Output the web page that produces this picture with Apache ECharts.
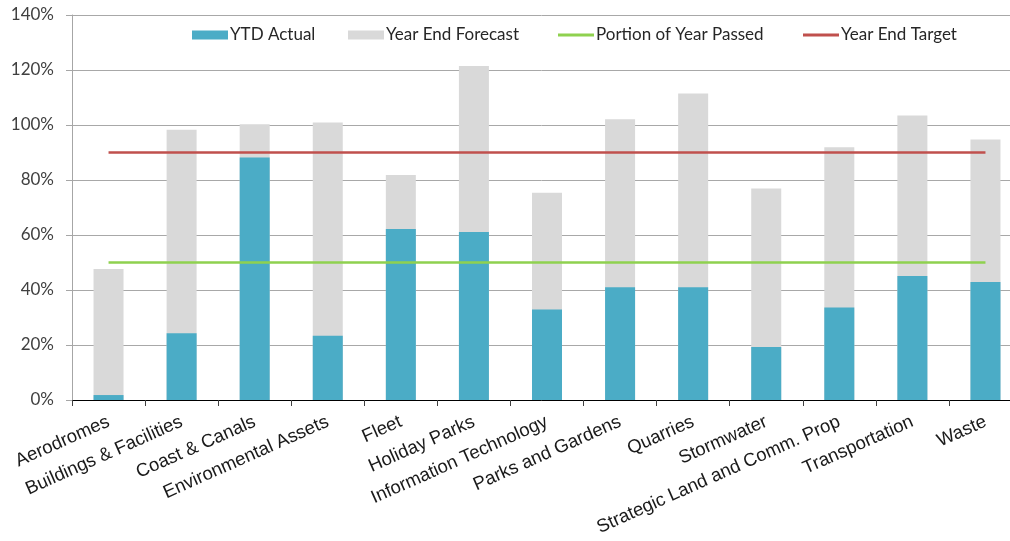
<!DOCTYPE html>
<html>
<head>
<meta charset="utf-8">
<title>Capital Programme Progress by Activity</title>
<script src="https://cdn.jsdelivr.net/npm/echarts@6/dist/echarts.min.js"></script>
<style>
  html, body { margin: 0; padding: 0; background: #ffffff; overflow: hidden; }
  #chart { width: 1010px; height: 541px; }
</style>
</head>
<body>
<div id="chart"></div>
<script>
// Activity groups along the horizontal axis
const categories = [
  'Aerodromes', 'Buildings & Facilities', 'Coast & Canals', 'Environmental Assets',
  'Fleet', 'Holiday Parks', 'Information Technology', 'Parks and Gardens',
  'Quarries', 'Stormwater', 'Strategic Land and Comm. Prop', 'Transportation', 'Waste'
];

// Percent of annual budget spent to date
const ytdActual = [1.8, 24.3, 88.2, 23.4, 62.2, 61.1, 32.9, 41.0, 41.0, 19.3, 33.6, 45.1, 42.9];

// Percent of annual budget expected to be spent by year end
const yearEndForecast = [47.6, 98.3, 100.3, 100.9, 81.8, 121.5, 75.4, 102.1, 111.5, 76.9, 91.9, 103.5, 94.7];

// Reference lines
const portionOfYearPassed = [50, 50, 50, 50, 50, 50, 50, 50, 50, 50, 50, 50, 50];
const yearEndTarget = [90, 90, 90, 90, 90, 90, 90, 90, 90, 90, 90, 90, 90];

// Value axis ticks (percent)
const yTicks = { min: 0, max: 140, interval: 20 };

const TEAL = '#4BACC6';
const GREY = '#D9D9D9';
const GREEN = '#8FD14F';
const RED = '#C0504D';

const legendFont = { fontFamily: 'Lato', fontSize: 17, color: '#262626' };
// thin bar used as the swatch for the line series
const LINE_ICON = 'path://M0,0 L36,0 L36,3 L0,3 Z';

// One legend block per entry so each sits at its own spot along the top
function legendAt(name, left, isLine) {
  return {
    data: [{ name: name, icon: isLine ? LINE_ICON : 'rect' }],
    left: left,
    top: 26.5,
    itemWidth: 36,
    itemHeight: 9,
    symbolKeepAspect: true,
    padding: 0,
    selectedMode: false,
    textStyle: Object.assign({ padding: [0, 0, 0, -3] }, legendFont)
  };
}

const chart = echarts.init(document.getElementById('chart'), null, { renderer: 'canvas' });

chart.setOption({
  animation: false,
  backgroundColor: '#ffffff',
  // the plot runs a little past the right edge of the canvas
  grid: { left: 72, width: 950, top: 15, height: 385, containLabel: false, outerBoundsMode: 'none' },
  legend: [
    legendAt('YTD Actual', 192, false),
    legendAt('Year End Forecast', 348, false),
    legendAt('Portion of Year Passed', 558, true),
    legendAt('Year End Target', 803, true)
  ],
  xAxis: {
    type: 'category',
    data: categories,
    boundaryGap: true,
    axisLine: { show: true, lineStyle: { color: '#000000', width: 1 } },
    axisTick: { show: true, length: 6, lineStyle: { color: '#404040' } },
    axisLabel: {
      interval: 0,
      rotate: 24,
      margin: 21,
      fontFamily: 'Liberation Sans',
      fontSize: 18.5,
      color: '#1a1a1a'
    },
    splitLine: { show: false }
  },
  yAxis: {
    type: 'value',
    min: yTicks.min,
    max: yTicks.max,
    interval: yTicks.interval,
    axisLine: { show: true, lineStyle: { color: '#a6a6a6', width: 1 } },
    axisTick: { show: true, length: 6, lineStyle: { color: '#a6a6a6' } },
    axisLabel: {
      formatter: '{value}%',
      margin: 18,
      fontFamily: 'Lato',
      fontSize: 17,
      color: '#404040'
    },
    splitLine: { show: true, lineStyle: { color: '#a8a8a8', width: 1 } }
  },
  series: [
    {
      name: 'Year End Forecast',
      type: 'bar',
      data: yearEndForecast,
      barWidth: 30,
      barGap: '-100%',
      itemStyle: { color: GREY },
      z: 2
    },
    {
      name: 'YTD Actual',
      type: 'bar',
      data: ytdActual,
      barWidth: 30,
      barGap: '-100%',
      itemStyle: { color: TEAL },
      z: 3
    },
    {
      name: 'Portion of Year Passed',
      type: 'line',
      data: portionOfYearPassed,
      symbol: 'none',
      lineStyle: { color: GREEN, width: 2.5 },
      itemStyle: { color: GREEN },
      z: 5
    },
    {
      name: 'Year End Target',
      type: 'line',
      data: yearEndTarget,
      symbol: 'none',
      lineStyle: { color: RED, width: 2.5 },
      itemStyle: { color: RED },
      z: 5
    }
  ]
});
</script>
</body>
</html>
